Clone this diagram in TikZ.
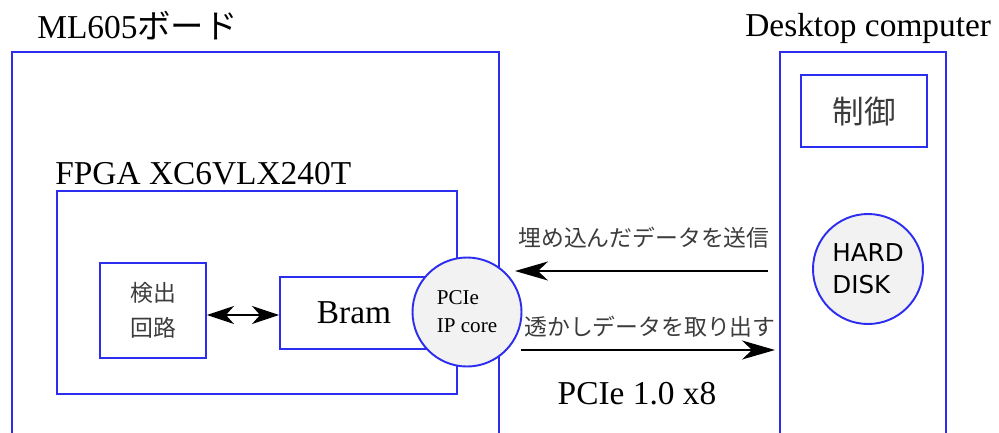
\documentclass[tikz,border=0pt]{standalone}
\usepackage{fontspec}
\setmainfont{Liberation Serif}
\newfontfamily\jpfont{Noto Sans CJK JP}
\newfontfamily\diskfont{DejaVu Sans}
\usetikzlibrary{positioning, arrows.meta}
\definecolor{BoardBlue}{RGB}{45,45,240}
\definecolor{JpGray}{RGB}{60,60,60}
\definecolor{CoreGray}{RGB}{242,242,242}
\tikzset{
    blockbox/.style={
        draw=BoardBlue, line width=1.1pt, fill=none, inner sep=0pt
    },
    corenode/.style={
        circle, draw=BoardBlue, line width=1.1pt, fill=CoreGray,
        minimum size=21.8mm, inner sep=0pt
    },
    titlelabel/.style={
        font=\fontsize{19}{22}\selectfont, inner sep=0pt
    },
    jplabel/.style={
        font=\jpfont\fontsize{13}{16}\selectfont, text=JpGray, inner sep=0pt
    }
}

\begin{document}
\begin{tikzpicture}[
        x=0.2mm, y=-0.2mm,
        % data path arrows
        flow/.style={
            -{Stealth[length=6.6mm, width=3.8mm, inset=2mm]}, line width=1pt, black
        },
        linkflow/.style={
            {Stealth[length=5.4mm, width=3.6mm, inset=1.6mm]}-{Stealth[length=5.4mm, width=3.6mm, inset=1.6mm]},
            line width=1pt, black
        }
    ]
    \useasboundingbox (0,0) rectangle (999,432);
    \clip (0,0) rectangle (999,432);

    % --- 1. BOARD SIDE ---
    \node[blockbox, minimum width=97.4mm, minimum height=79.6mm] (board) at (255.5,251) {};
    \node[titlelabel, anchor=base west] (boardname) at (37,38) {ML605{\jpfont ボード}};

    \node[blockbox, minimum width=80mm, minimum height=40.6mm] (fpga) at (257,292.5) {};
    \node[titlelabel, anchor=base west] (fpganame) at (55,184) {FPGA XC6VLX240T};

    \node[blockbox, minimum width=21.2mm, minimum height=19mm, align=center,
          font=\jpfont\fontsize{13}{20}\selectfont, text=JpGray] (detect) at (153,310.5) {検出\\回路};
    \node[blockbox, minimum width=29.6mm, minimum height=14.4mm,
          font=\fontsize{19}{22}\selectfont] (bram) at (354,313) {Bram};

    \node[corenode, align=left, font=\fontsize{12}{16}\selectfont] (pcie) at (467,312) {PCIe\\IP core};

    \draw[linkflow] (detect.east |- 0,315) -- (bram.west |- 0,315);

    % --- 2. DESKTOP SIDE ---
    \node[blockbox, minimum width=33.2mm, minimum height=79.6mm] (desktop) at (863,251) {};
    \node[titlelabel, anchor=base west] (deskname) at (745,36) {Desktop computer};

    \node[blockbox, minimum width=25.2mm, minimum height=14.4mm,
          font=\jpfont\fontsize{18}{22}\selectfont, text=JpGray] (ctrl) at (864,111) {制御};
    \node[corenode, minimum size=22mm, align=left,
          font=\diskfont\fontsize{14}{18}\selectfont] (disk) at (868,269) {HARD\\DISK};

    % --- 3. PCIe LINK ---
    \coordinate (sendS) at (768,271);
    \coordinate (sendE) at (515,271);
    \coordinate (recvS) at (521,350);
    \coordinate (recvE) at (775,350);

    \draw[flow] (sendS) -- (sendE);
    \draw[flow] (recvS) -- (recvE);

    \node[jplabel] (sendlabel) at (644,238) {埋め込んだデータを送信};
    \node[jplabel] (recvlabel) at (650,327) {透かしデータを取り出す};
    \node[titlelabel, anchor=base] (linkname) at (637,404) {PCIe 1.0 x8};

\end{tikzpicture}
\end{document}
